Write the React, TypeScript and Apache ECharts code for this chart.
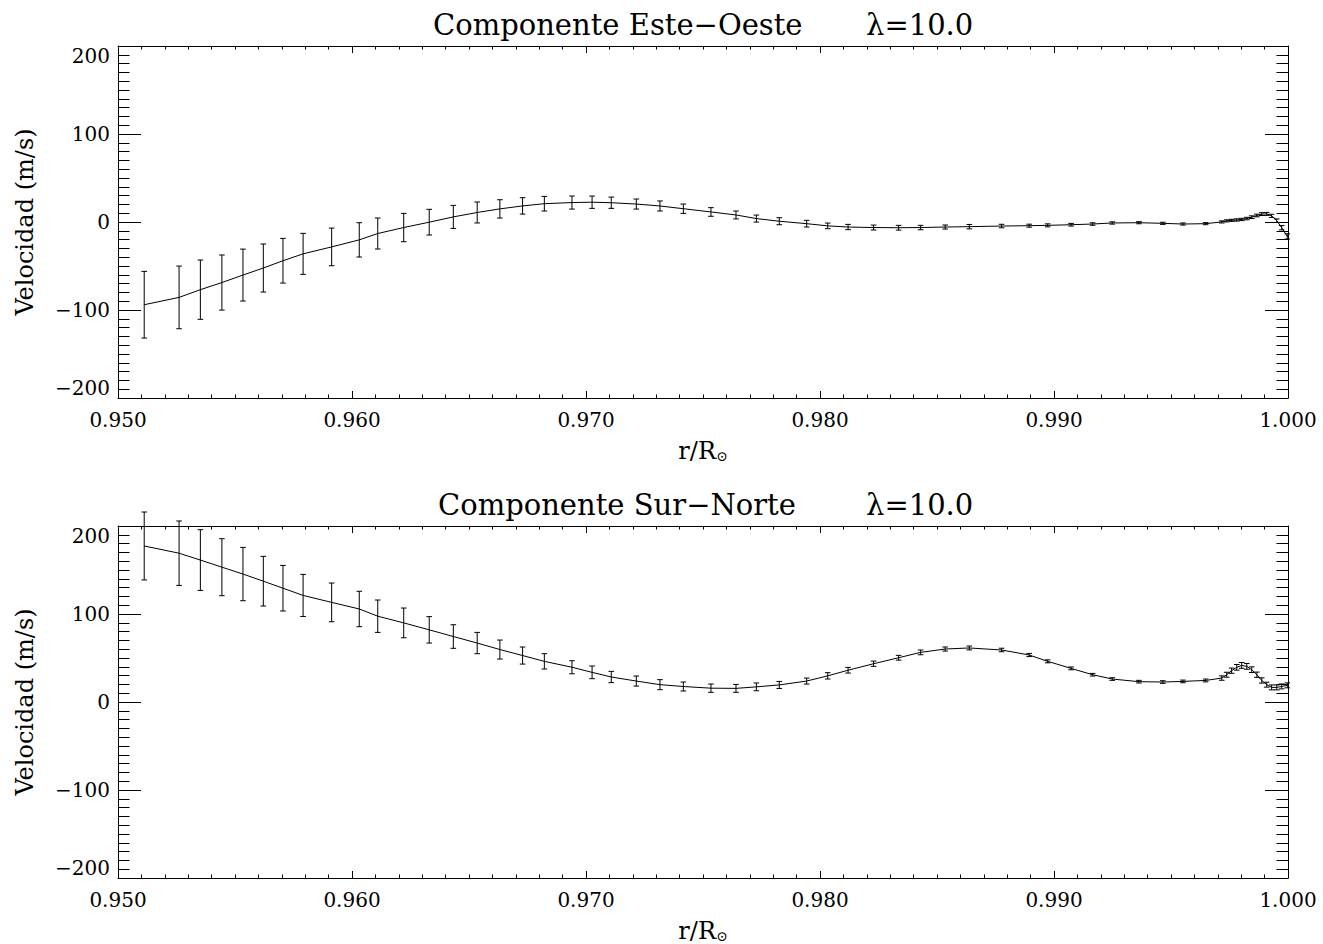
import React, { useEffect, useRef } from "react";
import * as echarts from "echarts";

// radius r/R_sun of each inversion point
const radius = [
  0.95112, 0.95261, 0.95352, 0.95444, 0.95534, 0.95621, 0.95705, 0.95791, 0.95913, 0.96031,
  0.9611, 0.96221, 0.9633, 0.96433, 0.96535, 0.96632, 0.96729, 0.96822, 0.9694, 0.97026,
  0.97108, 0.97215, 0.97316, 0.97416, 0.97534, 0.97641, 0.97728, 0.97826, 0.97943, 0.98033,
  0.9812, 0.98229, 0.98336, 0.9843, 0.98535, 0.98638, 0.98776, 0.98894, 0.98973, 0.99073,
  0.99165, 0.99249, 0.99363, 0.99465, 0.99551, 0.99648, 0.99717, 0.99738, 0.99759, 0.99781,
  0.99802, 0.99824, 0.99845, 0.99867, 0.99888, 0.99909, 0.9993, 0.99952, 0.99973, 0.99997,
];

// East-West component (m/s)
const ewVel = [
  -94, -85.7, -76.9, -68.8, -60.3, -52.3, -44, -36.2, -28.3, -20.3,
  -13.1, -6.3, -0.2, 5.8, 10.8, 14.9, 18.3, 20.8, 22.1, 22.5,
  21.9, 20.4, 18.2, 15.1, 11.4, 8, 3.9, 0.9, -1.9, -4.4,
  -5.7, -6.3, -6.5, -6.3, -5.7, -5.3, -4.6, -4.2, -3.8, -3.1,
  -2.3, -1.1, -0.8, -1.5, -2.3, -1.9, 0.1, 1.3, 1.9, 2.3,
  2.9, 3.9, 5.5, 7.4, 9, 9.2, 7, 1.5, -6.5, -16.4,
];
const ewErr = [
  37.9, 35.6, 33.7, 31.3, 29.5, 27.3, 25.4, 23.3, 21.4, 19.5,
  17.6, 16.1, 14.6, 13.1, 11.9, 10.4, 9.3, 8.3, 7.4, 7,
  6.4, 5.7, 5.7, 5.3, 4.9, 4.5, 4, 4, 3.8, 3.2,
  3, 2.8, 2.7, 2.5, 2.3, 2.5, 2, 1.7, 1.7, 1.5,
  1.4, 1.3, 1.2, 1.2, 1.2, 1.2, 1.2, 1.2, 1.2, 1.3,
  1.3, 1.4, 1.5, 1.5, 1.6, 1.7, 1.8, 2, 2.5, 3,
];

// South-North component (m/s)
const snVel = [
  177.3, 169.1, 161.3, 153.2, 145.4, 137.3, 129.3, 121.1, 113.2, 105.7,
  97.5, 89.9, 82, 74.4, 67, 59.6, 52.8, 46.2, 39.5, 33.7,
  28.4, 23.8, 19.7, 17.6, 15.7, 15.5, 17.2, 19.4, 23.8, 29.7,
  36.1, 43.5, 50.3, 56.4, 60.2, 61.4, 59.1, 53.4, 46.2, 38.2,
  31, 26.1, 23.1, 22.7, 23.4, 24.5, 27.2, 31, 35.6, 39.4,
  41.6, 40.5, 36.7, 31, 24.5, 19.7, 16.6, 16.6, 17.7, 18.9,
];
const snErr = [
  38.6, 36.6, 34.5, 32.4, 30.3, 28.2, 25.9, 23.9, 22, 20.1,
  18.4, 16.9, 15, 13.4, 12.1, 10.8, 9.7, 8.7, 7.4, 7.2,
  6.4, 5.7, 5.7, 5.1, 4.7, 4.5, 4.4, 4, 3.4, 3.6,
  3.2, 3, 2.7, 2.7, 2.3, 2.2, 2, 1.8, 1.7, 1.6,
  1.5, 1.5, 1.5, 1.5, 1.5, 1.6, 2.5, 2.8, 3, 3.2,
  3.3, 3.3, 3.2, 3, 3, 2.8, 2.8, 2.8, 2.8, 2.8,
];

const titlesTop = ["Componente Este\u2212Oeste", "Componente Sur\u2212Norte"];
const lambdaText = "\u03bb=10.0";
const yName = "Velocidad (m/s)";
const xTicks = { min: 0.95, max: 1.0, interval: 0.01 };
const yTicks = { min: -200, max: 200, interval: 100 };

const FONT = "DejaVu Serif";

export default function App() {
  const ref = useRef<HTMLDivElement>(null);

  useEffect(() => {
    document.body.style.margin = "0";
    const chart = echarts.init(ref.current!, null, { renderer: "svg" });

    const grids = [
      { left: 118, top: 46, width: 1170, height: 352 },
      { left: 118, top: 526, width: 1170, height: 352 },
    ];

    const tickStyle = { color: "#000", width: 1 };

    const xAxes: any[] = [];
    const yAxes: any[] = [];
    [0, 1].forEach((g) => {
      xAxes.push({
        gridIndex: g,
        type: "value",
        position: "bottom",
        min: xTicks.min,
        max: xTicks.max,
        interval: xTicks.interval,
        axisLine: { show: true, onZero: false, lineStyle: tickStyle },
        axisTick: { show: true, inside: true, length: 7, lineStyle: tickStyle },
        minorTick: { show: true, splitNumber: 10, length: 3.5, lineStyle: tickStyle },
        splitLine: { show: false },
        axisLabel: {
          formatter: (v: number) => v.toFixed(3),
          fontFamily: FONT,
          fontSize: 20,
          color: "#000",
          margin: 12,
        },
        name: "r/R{sub|\u2299}",
        nameLocation: "middle",
        nameGap: 40,
        nameTextStyle: {
          fontFamily: FONT,
          fontSize: 24,
          color: "#000",
          rich: {
            sub: { fontFamily: FONT, fontSize: 14, color: "#000", padding: [11, 0, 0, 0] },
          },
        },
      });
      xAxes.push({
        gridIndex: g,
        type: "value",
        position: "top",
        min: xTicks.min,
        max: xTicks.max,
        interval: xTicks.interval,
        axisLine: { show: true, onZero: false, lineStyle: tickStyle },
        axisTick: { show: true, inside: true, length: 7, lineStyle: tickStyle },
        minorTick: { show: true, splitNumber: 10, length: 3.5, lineStyle: tickStyle },
        splitLine: { show: false },
        axisLabel: { show: false },
      });
      yAxes.push({
        gridIndex: g,
        type: "value",
        position: "left",
        min: yTicks.min,
        max: yTicks.max,
        interval: yTicks.interval,
        axisLine: { show: true, onZero: false, lineStyle: tickStyle },
        axisTick: { show: true, inside: true, length: 23, lineStyle: tickStyle },
        minorTick: { show: true, splitNumber: 10, length: 11.5, lineStyle: tickStyle },
        splitLine: { show: false },
        axisLabel: {
          formatter: (v: number) => String(v).replace("-", "\u2212"),
          fontFamily: FONT,
          fontSize: 20,
          color: "#000",
          margin: 8,
          showMinLabel: true,
          showMaxLabel: true,
          verticalAlignMaxLabel: "top",
          verticalAlignMinLabel: "bottom",
        },
        name: yName,
        nameLocation: "middle",
        nameGap: 81,
        nameTextStyle: { fontFamily: FONT, fontSize: 24, color: "#000" },
      });
      yAxes.push({
        gridIndex: g,
        type: "value",
        position: "right",
        min: yTicks.min,
        max: yTicks.max,
        interval: yTicks.interval,
        axisLine: { show: true, onZero: false, lineStyle: tickStyle },
        axisTick: { show: true, inside: true, length: 23, lineStyle: tickStyle },
        minorTick: { show: true, splitNumber: 10, length: 11.5, lineStyle: tickStyle },
        splitLine: { show: false },
        axisLabel: { show: false },
      });
    });

    const errRender = (params: any, api: any) => {
      const x = api.value(0);
      const y = api.value(1);
      const e = api.value(2);
      const top = api.coord([x, y + e]);
      const bot = api.coord([x, y - e]);
      const w = 2.8;
      const st = { stroke: "#000", lineWidth: 1 };
      return {
        type: "group",
        children: [
          { type: "line", shape: { x1: top[0], y1: top[1], x2: bot[0], y2: bot[1] }, style: st },
          { type: "line", shape: { x1: top[0] - w, y1: top[1], x2: top[0] + w, y2: top[1] }, style: st },
          { type: "line", shape: { x1: bot[0] - w, y1: bot[1], x2: bot[0] + w, y2: bot[1] }, style: st },
        ],
      };
    };

    const sets = [
      { vel: ewVel, err: ewErr },
      { vel: snVel, err: snErr },
    ];

    const series: any[] = [];
    sets.forEach((s, g) => {
      series.push({
        type: "line",
        xAxisIndex: g * 2,
        yAxisIndex: g * 2,
        data: radius.map((r, i) => [r, s.vel[i]]),
        symbol: "none",
        lineStyle: { color: "#000", width: 1 },
        clip: false,
      });
      series.push({
        type: "custom",
        xAxisIndex: g * 2,
        yAxisIndex: g * 2,
        data: radius.map((r, i) => [r, s.vel[i], s.err[i]]),
        encode: { x: 0, y: 1 },
        renderItem: errRender,
        clip: false,
      });
    });

    const titleStyle = { fontFamily: FONT, fontSize: 29, fontWeight: "normal", color: "#000" };
    const title = [
      { text: titlesTop[0], left: 433, top: 10, padding: 0, textStyle: titleStyle },
      { text: lambdaText, left: 866, top: 10, padding: 0, textStyle: titleStyle },
      { text: titlesTop[1], left: 438, top: 490, padding: 0, textStyle: titleStyle },
      { text: lambdaText, left: 866, top: 490, padding: 0, textStyle: titleStyle },
    ];

    chart.setOption({
      animation: false,
      backgroundColor: "#fff",
      title,
      grid: grids,
      xAxis: xAxes,
      yAxis: yAxes,
      series,
    });

    return () => chart.dispose();
  }, []);

  return <div ref={ref} style={{ width: 1323, height: 944 }} />;
}
